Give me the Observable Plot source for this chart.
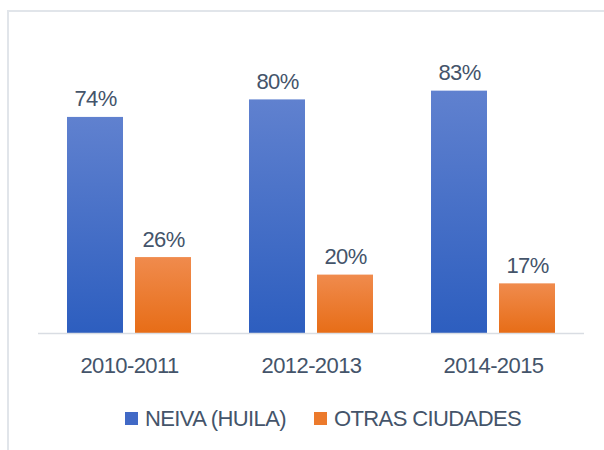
<!DOCTYPE html>
<html><head><meta charset="utf-8">
<script src="https://cdn.jsdelivr.net/npm/d3@7"></script>
<script src="https://cdn.jsdelivr.net/npm/@observablehq/plot@0.6"></script>
<style>
body{margin:0;background:#fff;}
#wrap{position:relative;width:604px;height:450px;overflow:hidden;font-family:"Liberation Sans",Arial,sans-serif;background:#fff;}
#border{position:absolute;left:7px;top:10px;width:700px;height:600px;border-left:2px solid #e1e5ea;border-top:2px solid #e1e5ea;}
#chart{position:absolute;left:0;top:0;}
#legend{position:absolute;top:402px;left:125px;}
#legend > div{margin:0 !important;font-family:"Liberation Sans",Arial,sans-serif !important;letter-spacing:-0.6px;}
#legend span{margin-right:28px !important;}
#legend span > svg{margin-right:7px !important;}
</style></head><body>
<div id="wrap"><div id="border"></div><div id="chart"></div><div id="legend"></div></div>
<script>
const periods = ["2010-2011", "2012-2013", "2014-2015"];
const series = ["NEIVA (HUILA)", "OTRAS CIUDADES"];
const neiva = [74, 80, 83];
const otras = [26, 20, 17];
const seriesColors = ["#4169c6", "#ec7a2c"];

const dataNeiva = periods.map((p, i) => ({period: p, series: series[0], value: neiva[i]}));
const dataOtras = periods.map((p, i) => ({period: p, series: series[1], value: otras[i]}));
const all = dataNeiva.concat(dataOtras);

function gradients() {
  const defs = d3.create("svg:defs");
  const g1 = defs.append("linearGradient").attr("id", "gBlue").attr("x1", 0).attr("y1", 0).attr("x2", 0).attr("y2", 1);
  g1.append("stop").attr("offset", "0%").attr("stop-color", "#6081cf");
  g1.append("stop").attr("offset", "100%").attr("stop-color", "#2d5ebf");
  const g2 = defs.append("linearGradient").attr("id", "gOrange").attr("x1", 0).attr("y1", 0).attr("x2", 0).attr("y2", 1);
  g2.append("stop").attr("offset", "0%").attr("stop-color", "#f08b4d");
  g2.append("stop").attr("offset", "100%").attr("stop-color", "#e76d17");
  return defs.node();
}

const chart = Plot.plot({
  width: 604,
  height: 450,
  marginLeft: 37,
  marginRight: 20,
  marginTop: 41,
  marginBottom: 117,
  style: {fontFamily: "'Liberation Sans', Arial, sans-serif", color: "#44546a", background: "transparent", overflow: "visible", letterSpacing: "-0.6px"},
  fx: {domain: periods, padding: 0},
  x: {domain: series, paddingInner: 0.174, paddingOuter: 0.408, axis: null},
  y: {domain: [0, 100], axis: null},
  marks: [
    gradients,
    Plot.barY(dataNeiva, {fx: "period", x: "series", y: "value", fill: "url(#gBlue)"}),
    Plot.barY(dataOtras, {fx: "period", x: "series", y: "value", fill: "url(#gOrange)"}),
    Plot.ruleY([0], {stroke: "#d9dde3", strokeWidth: 1.5}),
    Plot.text(all, {fx: "period", x: "series", y: "value", text: d => d.value + "%", dy: -11, lineAnchor: "bottom", fontSize: 22, fill: "#44546a"}),
    Plot.axisFx({anchor: "bottom", tickSize: 0, tickPadding: 24, fontSize: 22, label: null})
  ]
});
document.getElementById("chart").append(chart);

const legend = Plot.legend({
  color: {type: "categorical", domain: series, range: seriesColors},
  swatchSize: 13,
  style: {fontSize: "22px", color: "#44546a"}
});
document.getElementById("legend").append(legend);
</script>
</body></html>
